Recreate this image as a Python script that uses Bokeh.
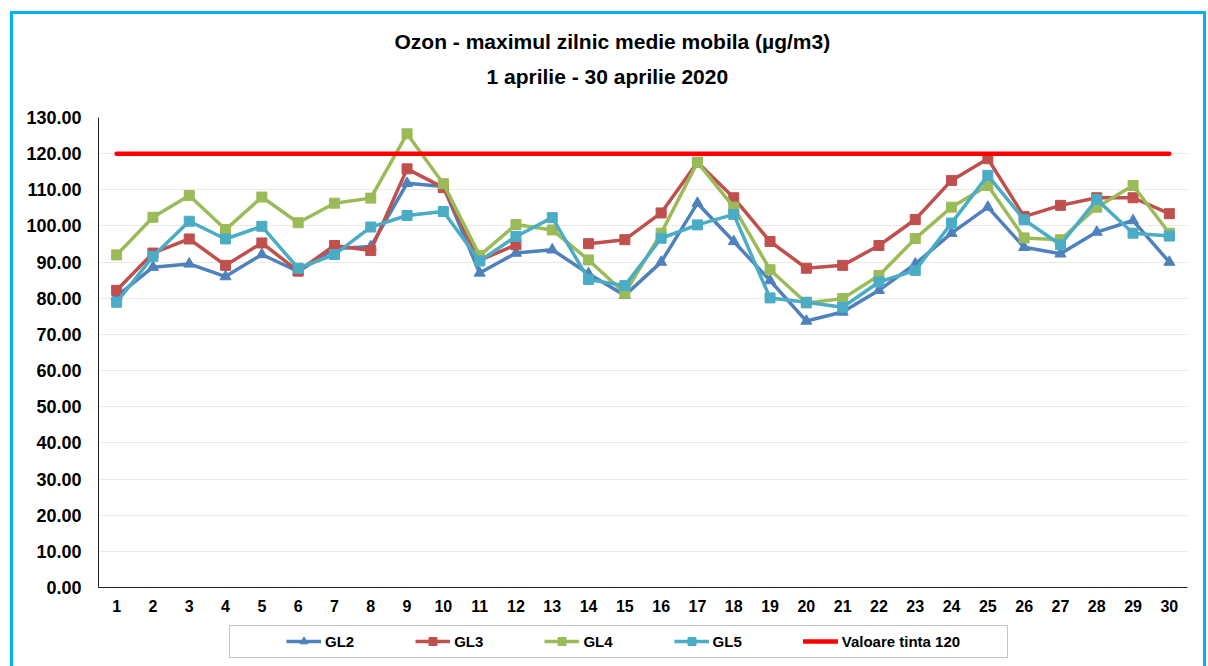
import numpy as np
from bokeh.plotting import figure
from bokeh.layouts import column
from bokeh.models import (ColumnDataSource, FixedTicker, NumeralTickFormatter,
                          Legend, LegendItem, Title, Range1d, BoxAnnotation)
from bokeh.embed import file_html
from bokeh.resources import INLINE

# ---------------- data ----------------
days = [1, 2, 3, 4, 5, 6, 7, 8, 9, 10, 11, 12, 13, 14, 15,
        16, 17, 18, 19, 20, 21, 22, 23, 24, 25, 26, 27, 28, 29, 30]
gl2 = [80.5, 88.6, 89.5, 86.0, 92.1, 87.4, 93.7, 94.3, 111.8, 110.9,
       87.0, 92.5, 93.4, 86.8, 80.8, 90.0, 106.3, 95.7, 84.9, 73.7,
       76.2, 82.2, 89.5, 98.0, 105.2, 94.1, 92.3, 98.3, 101.5, 90.0]
gl3 = [82.2, 92.5, 96.4, 89.1, 95.3, 87.5, 94.6, 93.2, 115.8, 110.6,
       90.5, 94.8, None, 95.1, 96.2, 103.6, 117.6, 107.8, 95.7, 88.3,
       89.1, 94.6, 101.8, 112.6, 118.6, 102.6, 105.7, 107.8, 107.8, 103.4]
gl4 = [92.0, 102.4, 108.4, 99.0, 108.0, 100.9, 106.3, 107.7, 125.5, 111.7,
       91.8, 100.4, 98.9, 90.6, 81.4, 98.0, 117.6, 105.2, 87.9, 78.7,
       79.9, 86.3, 96.5, 105.2, 111.2, 96.7, 96.2, 105.2, 111.2, 98.0]
gl5 = [78.9, 91.6, 101.3, 96.4, 99.9, 88.3, 92.1, 99.7, 102.9, 104.0,
       90.3, 97.1, 102.3, 85.2, 83.5, 96.6, 100.3, 103.2, 80.1, 78.9,
       77.5, 84.5, 87.7, 100.8, 114.0, 101.7, 94.8, 107.3, 98.0, 97.2]
target = [120, 120, 120, 120, 120, 120, 120, 120, 120, 120,
          120, 120, 120, 120, 120, 120, 120, 120, 120, 120,
          120, 120, 120, 120, 120, 120, 120, 120, 120, 120]
y_ticks = [0, 10, 20, 30, 40, 50, 60, 70, 80, 90, 100, 110, 120, 130]

series_names = ["GL2", "GL3", "GL4", "GL5"]
target_name = "Valoare tinta 120"
title_1 = "Ozon - maximul zilnic medie mobila (µg/m3)"
title_2 = "1 aprilie - 30 aprilie 2020"

FONT = "Liberation Sans"
BORDER = "3px solid #00B0F0"

def arr(v):
    return np.array([np.nan if x is None else x for x in v], dtype=float)

# ---------------- main chart ----------------
p = figure(width=1196, height=607, output_backend="svg", toolbar_location=None,
           title=None,
           x_range=Range1d(0.5, 30.5), y_range=Range1d(0, 130),
           min_border_left=85, min_border_right=22, min_border_top=103,
           min_border_bottom=34)
p.styles = {"border-top": BORDER, "border-left": BORDER, "border-right": BORDER}
p.outline_line_color = None
p.background_fill_color = "white"
p.border_fill_color = "white"

# titles (spacer first, closest to the frame)
p.add_layout(Title(text=" ", text_font_size="10px", standoff=12), "above")
p.add_layout(Title(text=title_2, align="left", offset=388, text_font=FONT,
                   text_font_size="21px", text_font_style="bold",
                   text_color="black", standoff=10), "above")
p.add_layout(Title(text=title_1, align="left", offset=296, text_font=FONT,
                   text_font_size="21px", text_font_style="bold",
                   text_color="black", standoff=10), "above")

# axes
p.xaxis.ticker = FixedTicker(ticks=days)
p.yaxis.ticker = FixedTicker(ticks=y_ticks)
p.yaxis.formatter = NumeralTickFormatter(format="0.00")
for ax in (p.xaxis, p.yaxis):
    ax.major_label_text_font = FONT
    ax.major_label_text_font_style = "bold"
    ax.major_label_text_color = "black"
    ax.major_tick_line_color = None
    ax.minor_tick_line_color = None
    ax.axis_line_color = "#202020"
    ax.axis_line_width = 1
p.xaxis.major_label_text_font_size = "16px"
p.yaxis.major_label_text_font_size = "18px"
p.xaxis.major_label_standoff = 6
p.yaxis.major_label_standoff = 11
p.xgrid.grid_line_color = None
p.ygrid.grid_line_color = "#EAEADF"
p.ygrid.grid_line_width = 1

styles = [
    ("#4F81BD", "triangle", 11),
    ("#C0504D", "square", 10),
    ("#9BBB59", "square", 10),
    ("#4BACC6", "square", 10),
]
values = [gl2, gl3, gl4, gl5]
sources = []
for vals, (color, marker, size) in zip(values, styles):
    src = ColumnDataSource(dict(x=days, y=arr(vals)))
    sources.append(src)
    p.line("x", "y", source=src, line_color=color, line_width=3.5,
           line_join="round")
    p.scatter("x", "y", source=src, marker=marker, size=size,
              fill_color=color, line_color=color)

tsrc = ColumnDataSource(dict(x=days, y=arr(target)))
p.line("x", "y", source=tsrc, line_color="#FF0000", line_width=4.5,
       line_cap="round")

# ---------------- legend strip (frame aligned with the chart frame) -------
pl = figure(width=1196, height=48, output_backend="svg", toolbar_location=None,
            title=None, x_range=Range1d(98, 1187), y_range=Range1d(0, 48),
            x_axis_location=None, y_axis_location=None,
            min_border_left=85, min_border_right=22, min_border_top=0,
            min_border_bottom=0)
pl.styles = {"border-left": BORDER, "border-right": BORDER}
pl.outline_line_color = None
pl.xgrid.grid_line_color = None
pl.ygrid.grid_line_color = None
pl.background_fill_color = "white"
pl.border_fill_color = "white"

pl.add_layout(BoxAnnotation(left=229, right=1007, bottom=9, top=41,
                            fill_alpha=0, line_color="#404040", line_width=1))

# legend renderers share the chart's data (they fall outside this strip's view)
items = []
for name, src, (color, marker, size) in zip(series_names, sources, styles):
    ln = pl.line("x", "y", source=src, line_color=color, line_width=3.5)
    sc = pl.scatter("x", "y", source=src, marker=marker, size=7,
                    fill_color=color, line_color=color)
    items.append(LegendItem(label=name, renderers=[ln, sc]))
tl = pl.line("x", "y", source=tsrc, line_color="#FF0000",
             line_width=4.5, line_cap="round")
items.append(LegendItem(label=target_name, renderers=[tl]))

legend = Legend(items=items, orientation="horizontal", location=(188, 15),
                label_text_font=FONT, label_text_font_size="15px",
                label_text_font_style="bold", label_text_color="black",
                glyph_width=35, glyph_height=20, label_standoff=4,
                spacing=61, padding=6, margin=0,
                border_line_color=None, background_fill_alpha=0)
pl.add_layout(legend, "center")

root = column(p, pl, margin=(11, 0, 0, 10), spacing=0)
open("out.html", "w").write(file_html(root, INLINE))
